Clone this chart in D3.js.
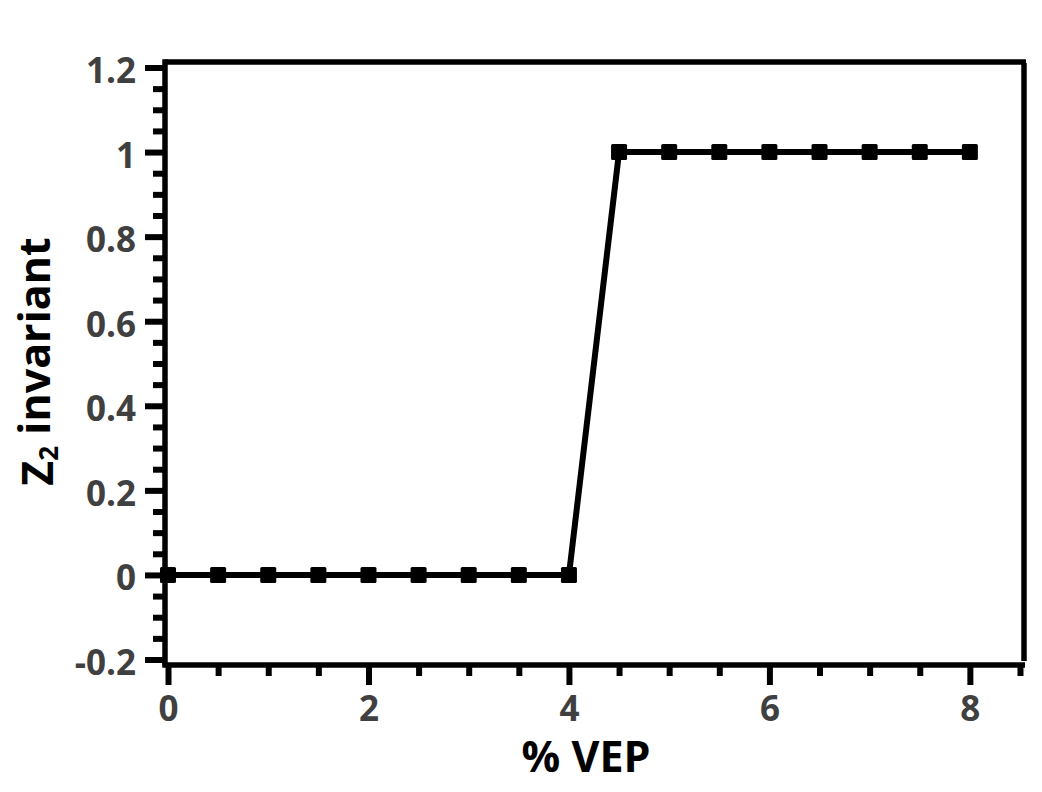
<!DOCTYPE html>
<html>
<head>
<meta charset="utf-8">
<script src="https://cdn.jsdelivr.net/npm/d3@7/dist/d3.min.js"></script>
<style>
  html, body { margin: 0; padding: 0; background: #fff; }
  svg { display: block; font-family: 'Open Sans', 'Noto Sans', sans-serif; }
  .tick-label { font-weight: 700; font-size: 35px; fill: #404040; }
  .axis-title { font-weight: 700; font-size: 43px; fill: #000; }
</style>
</head>
<body>
<div id="chart"></div>
<script>
// data
const vep = [0, 0.5, 1, 1.5, 2, 2.5, 3, 3.5, 4, 4.5, 5, 5.5, 6, 6.5, 7, 7.5, 8];
const z2 = [0, 0, 0, 0, 0, 0, 0, 0, 0, 1, 1, 1, 1, 1, 1, 1, 1];

const xMajorTicks = [0, 2, 4, 6, 8];
const xMinorTicks = [0.5, 1, 1.5, 2.5, 3, 3.5, 4.5, 5, 5.5, 6.5, 7, 7.5, 8.5];
const yMajorTicks = [-0.2, 0, 0.2, 0.4, 0.6, 0.8, 1, 1.2];
const yTickLabels = ['-0.2', '0', '0.2', '0.4', '0.6', '0.8', '1', '1.2'];
const yMinorTicks = d3.range(-0.15, 1.2, 0.05)
  .filter((v) => Math.abs(Math.round(v * 5) - v * 5) > 1e-6);

const width = 1042;
const height = 792;
const margin = { left: 165, top: 62, right: 17, bottom: 127 };
const innerW = width - margin.left - margin.right;
const innerH = height - margin.top - margin.bottom;

const x = d3.scaleLinear()
  .domain([-0.03, 8.55])
  .range([0, innerW]);

const y = d3.scaleLinear()
  .domain([-0.213, 1.213])
  .range([innerH, 0]);

const svg = d3.select('#chart').append('svg')
  .attr('width', width)
  .attr('height', height)
.append('g')
  .attr('transform', `translate(${margin.left}, ${margin.top})`);

const lw = 6;

const xAxis = d3.axisBottom(x)
  .tickValues(xMajorTicks)
  .tickSize(20)
  .tickPadding(11)
  .tickFormat(d3.format('d'));

const xMinor = d3.axisBottom(x)
  .tickValues(xMinorTicks)
  .tickSize(11)
  .tickFormat('');

const yAxis = d3.axisLeft(y)
  .tickValues(yMajorTicks)
  .tickSize(20)
  .tickPadding(9)
  .tickFormat((d, i) => yTickLabels[i]);

const yMinor = d3.axisLeft(y)
  .tickValues(yMinorTicks)
  .tickSize(12)
  .tickFormat('');

function styleAxis(g) {
  g.attr('font-family', null).attr('font-size', null);
  g.select('.domain').remove();
  g.selectAll('.tick line')
    .attr('stroke', '#000')
    .attr('stroke-width', lw);
  g.selectAll('.tick text')
    .attr('class', 'tick-label');
}

svg.append('g')
  .attr('transform', `translate(0, ${innerH})`)
  .call(xMinor)
  .call(styleAxis);

svg.append('g')
  .attr('transform', `translate(0, ${innerH})`)
  .call(xAxis)
  .call(styleAxis);

svg.append('g')
  .call(yMinor)
  .call(styleAxis);

svg.append('g')
  .call(yAxis)
  .call(styleAxis)
  .selectAll('.tick text')
  .attr('dy', '0.43em');

// frame
const frame = svg.append('g')
  .attr('stroke', '#000')
  .attr('stroke-width', 5.5)
  .attr('fill', 'none');

frame.append('line')
  .attr('x1', 0).attr('x2', innerW + 1)
  .attr('y1', 0).attr('y2', 0);
frame.append('line')
  .attr('x1', innerW - 1).attr('x2', innerW - 1)
  .attr('y1', 1).attr('y2', innerH - 4);
frame.append('line')
  .attr('x1', 0).attr('x2', 0)
  .attr('y1', -2.75).attr('y2', innerH);
frame.append('line')
  .attr('x1', -2.75).attr('x2', innerW)
  .attr('y1', innerH).attr('y2', innerH);

// series
const data = vep.map((v, i) => ({ x: v, y: z2[i] }));

const line = d3.line()
  .x((d) => x(d.x))
  .y((d) => y(d.y));

svg.append('path')
  .datum(data)
  .attr('fill', 'none')
  .attr('stroke', '#000')
  .attr('stroke-width', 6)
  .attr('d', line);

const s = 16;
svg.selectAll('.dot')
  .data(data)
  .enter()
  .append('rect')
  .attr('class', 'dot')
  .attr('x', (d) => x(d.x) - s / 2)
  .attr('y', (d) => y(d.y) - s / 2)
  .attr('width', s)
  .attr('height', s)
  .attr('rx', 1.5)
  .attr('fill', '#000');

// axis titles
svg.append('text')
  .attr('class', 'axis-title')
  .attr('x', innerW / 2 - 9)
  .attr('y', innerH + 107)
  .attr('text-anchor', 'middle')
  .text('% VEP');

const yt = svg.append('text')
  .attr('class', 'axis-title')
  .attr('transform', `translate(${53 - margin.left}, ${innerH / 2 - 2}) rotate(-90)`)
  .attr('text-anchor', 'middle');
yt.append('tspan').text('Z');
yt.append('tspan')
  .attr('font-size', '26px')
  .attr('dy', '0.2em')
  .text('2');
yt.append('tspan')
  .attr('dy', '-0.2em')
  .text(' invariant');
</script>
</body>
</html>
